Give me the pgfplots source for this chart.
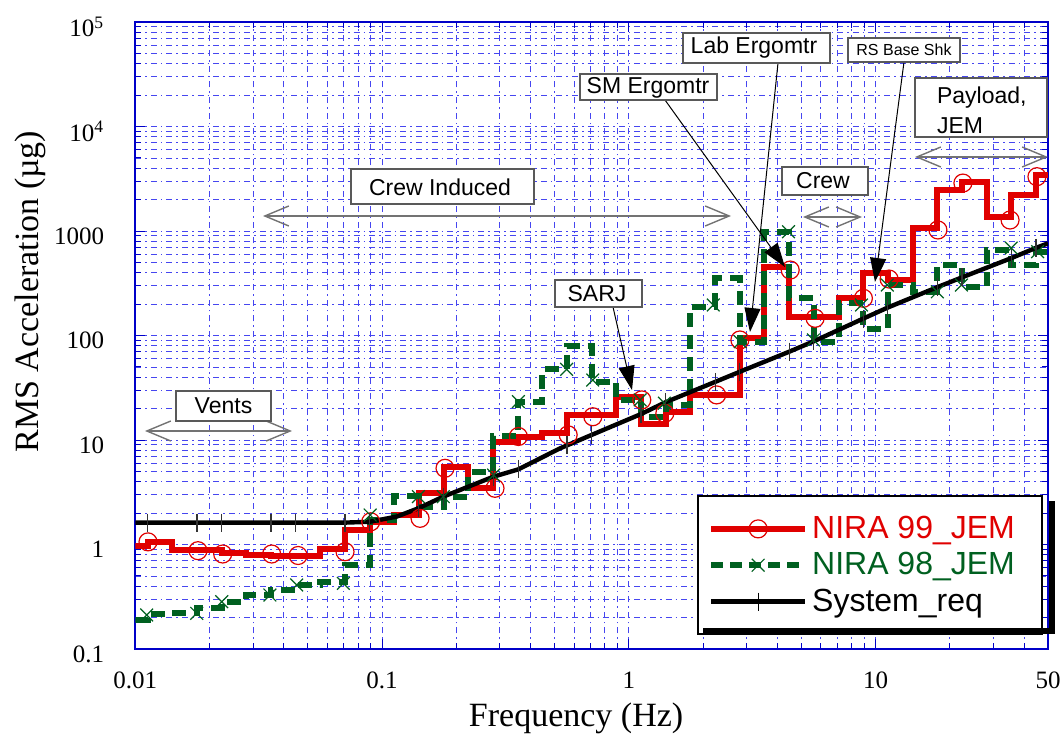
\documentclass[border=0pt]{standalone}
\usepackage{pgfplots}
\pgfplotsset{compat=1.18}
\usetikzlibrary{arrows.meta}
\usepackage{fontspec}
\setmainfont{Liberation Serif}
\newfontfamily\arialf{Liberation Sans}
\definecolor{nred}{RGB}{224,0,0}
\definecolor{ngreen}{RGB}{0,96,32}
\definecolor{gridblue}{RGB}{70,70,240}
\definecolor{axblue}{RGB}{0,0,200}

\begin{document}
\begin{tikzpicture}
% picture frame = 1061 x 737 px at 0.5pt per px, axis box at px (135.3,22)-(1048,649)
\useasboundingbox (-67.65pt,11pt) rectangle (462.85pt,-357.5pt);
\begin{axis}[
  at={(0pt,0pt)}, anchor=north west,
  scale only axis, width=456.35pt, height=313.5pt,
  xmode=log, ymode=log,
  xmin=0.01, xmax=50, ymin=0.1, ymax=100000,
  xtick={0.01,0.1,1,10,50}, xticklabels={0.01,0.1,1,10,50},
  ytick={0.1,1,10,100,1000,10000,100000},
  yticklabels={0.1,1,10,100,1000,10\textsuperscript{4},10\textsuperscript{5}},
  minor xtick={0.02,0.03,0.04,0.05,0.06,0.07,0.08,0.09,0.2,0.3,0.4,0.5,0.6,0.7,0.8,0.9,2,3,4,5,6,7,8,9,20,30,40},
  minor ytick={0.2,0.3,0.4,0.5,0.6,0.7,0.8,0.9,2,3,4,5,6,7,8,9,20,30,40,50,60,70,80,90,200,300,400,500,600,700,800,900,2000,3000,4000,5000,6000,7000,8000,9000,20000,30000,40000,50000,60000,70000,80000,90000},
  grid=both,
  major grid style={draw=gridblue, dash pattern=on 3pt off 2pt on 0.8pt off 2pt, line width=0.5pt},
  minor grid style={draw=gridblue, dash pattern=on 3pt off 2pt on 0.8pt off 2pt, line width=0.45pt},
  axis line style={draw=axblue, line width=0.8pt},
  tick style={draw=axblue, line width=0.5pt},
  major tick length=5pt, minor tick length=3pt, tick align=inside,
  ticklabel style={font=\fontsize{12.5}{14}\selectfont},
  xticklabel style={yshift=-8pt},
  yticklabel style={xshift=-12pt, yshift=-2.5pt},
  xlabel={Frequency (Hz)}, ylabel={RMS Acceleration (µg)},
  label style={font=\fontsize{17}{20}\selectfont},
  xlabel style={at={(axis description cs:0.483,-0.11)}, anchor=center},
  ylabel style={at={(axis description cs:-0.115,0.57)}, anchor=center},
  legend image code/.code={\draw[mark repeat=2,mark phase=2,#1] plot coordinates {(0pt,0pt)(23.5pt,0pt)(47pt,0pt)};},
  legend style={at={(axis description cs:0.6154,0.2456)}, anchor=north west,
    draw=black, line width=1.2pt, fill=white,
    font=\arialf\fontsize{16}{18}\selectfont,
    inner xsep=5pt, inner ysep=8pt, row sep=1.5pt},
  legend cell align=left,
]
\addlegendimage{nred, line width=3pt, mark=o, mark size=4.5pt, mark options={solid, line width=0.6pt}}
\addlegendentry{\makebox[108pt][l]{\textcolor{nred}{NIRA 99\_JEM}}}
\addlegendimage{ngreen, line width=3pt, dash pattern=on 6pt off 3.5pt, mark=x, mark size=4.5pt, mark options={solid, line width=0.6pt}}
\addlegendentry{\makebox[108pt][l]{\textcolor{ngreen}{NIRA 98\_JEM}}}
\addlegendimage{black, line width=2.2pt, mark=|, mark size=4.5pt, mark options={solid, line width=0.6pt}}
\addlegendentry{\makebox[108pt][l]{System\_req}}

% NIRA 99_JEM, 1/3 octave band levels
\addplot[nred, line width=3pt, line join=miter, const plot mark mid, forget plot] coordinates {
(0.01,0.97)(0.01259,1.06)(0.01585,0.886)(0.01995,0.886)(0.02512,0.835)(0.03162,0.79)(0.03981,0.77)(0.05012,0.77)(0.0631,0.906)(0.07943,1.38)
(0.1,1.65)(0.1259,1.91)(0.1585,3.09)(0.1995,5.56)(0.2512,3.45)(0.3162,9.64)(0.3981,10.8)(0.5012,11.6)(0.631,17.3)(0.7943,17.3)
(1,25.9)(1.259,14.2)(1.585,18.7)(1.995,27)(2.512,27)(3.162,94)(3.981,455)(5.012,151)(6.31,151)(7.943,227)
(10,399)(12.59,340)(15.85,1062)(19.95,2466)(25.12,2963)(31.62,1370)(39.81,2208)(50,3436)};

% NIRA 98_JEM
\addplot[ngreen, line width=3pt, dash pattern=on 7pt off 4pt, const plot mark mid, forget plot] coordinates {
(0.01,0.189)(0.01259,0.216)(0.01585,0.22)(0.01995,0.246)(0.02512,0.284)(0.03162,0.329)(0.03981,0.367)(0.05012,0.414)(0.0631,0.44)(0.07943,0.635)
(0.1,1.71)(0.1259,2.91)(0.1585,2.3)(0.1995,2.85)(0.2512,4.97)(0.3162,10.9)(0.3981,23.3)(0.5012,47.5)(0.631,79.8)(0.7943,36.1)
(1,24.2)(1.259,16.7)(1.585,21.6)(1.995,189)(2.512,352)(3.162,87.3)(3.981,984)(5.012,227)(6.31,87.3)(7.943,203)
(10,115)(12.59,304)(15.85,262)(19.95,473)(25.12,293)(31.62,658)(39.81,473)(50,634)};

% System_req
\addplot[black, line width=2.2pt, forget plot] coordinates {
(0.01,1.62)(0.0112,1.62)(0.0178,1.62)(0.0224,1.62)(0.0355,1.62)(0.0447,1.62)(0.0708,1.62)(0.089,1.65)(0.1147,1.85)(0.1403,2.22)
(0.177,2.87)(0.2825,4.45)(0.357,5.24)(0.527,8.33)(0.708,11.2)(1.12,17.7)(1.41,23)(2.24,36)(2.82,45)(4.47,70)
(5.62,88)(8.91,145)(11.2,185)(17.8,290)(22.4,360)(35.5,550)(44.7,690)(50,762)};

% markers
\addplot[only marks, mark=o, mark size=4.5pt, mark options={nred, line width=0.6pt}, forget plot] coordinates {
(0.01126,1.06)(0.01795,0.873)(0.0226,0.811)(0.0357,0.811)(0.0457,0.785)(0.0708,0.853)(0.09,1.65)(0.1426,1.78)(0.18,5.36)(0.287,3.45)
(0.357,10.8)(0.568,11.2)(0.715,16.7)(1.129,24.2)(1.40,18)(2.27,27)(2.82,90.6)(4.51,423)(5.69,146)(8.93,227)
(11.35,347)(17.9,1023)(22.6,2876)(35.1,1274)(45.1,3311)};
\addplot[only marks, mark=x, mark size=4.5pt, mark options={ngreen, line width=0.6pt}, forget plot] coordinates {
(0.01112,0.2115)(0.01774,0.2195)(0.02241,0.2836)(0.03512,0.3286)(0.04509,0.4097)(0.0697,0.4253)(0.0895,1.915)(0.1404,2.87)(0.1771,2.87)(0.2833,4.62)
(0.357,23.3)(0.5599,47.5)(0.7142,37.5)(1.1123,24.2)(1.3937,22.5)(2.2,196)(2.83,87.3)(4.44,984)(5.6,90.6)(8.77,196)
(11.16,304)(17.8,262)(22.3,304)(35.5,687)(45.4,634)};
\addplot[only marks, mark=|, mark size=4.5pt, mark options={black!80, line width=0.6pt}, forget plot] coordinates {
(0.0112,1.62)(0.0178,1.62)(0.0224,1.62)(0.0355,1.62)(0.0447,1.62)(0.0708,1.62)(0.089,1.65)(0.1403,2.22)(0.177,2.87)(0.2825,4.45)
(0.357,5.24)(0.562,8.9)(0.708,11.2)(1.12,17.7)(1.41,23)(2.24,36)(2.82,45)(4.47,70)(5.62,88)(8.91,145)
(11.2,185)(17.8,290)(22.4,360)(35.5,550)(44.7,690)};
\end{axis}

% annotations, in pixel units of the reference
\begin{scope}[x=0.5pt,y=-0.5pt,shift={(-135.3,-22)}, font=\arialf\fontsize{11.5}{13}\selectfont]
\tikzset{abox/.style={fill=white, draw=black!65, line width=0.8pt},
  dbl/.style={draw=black!55, line width=0.7pt, {Straight Barb[length=12pt,width=10pt]}-{Straight Barb[length=12pt,width=10pt]}},
  sarr/.style={draw=black, line width=0.5pt, -{Triangle[length=12pt,width=8pt]}}}
% legend shadow
\fill[black] (1049,501) rectangle (1055,634);
\fill[black] (703,628) rectangle (1055,634);

\draw[dbl] (145,431) -- (292,431);
\draw[abox] (176,391) rectangle (271,421);
\node at (223.5,406) {Vents};

\draw[dbl] (263,216) -- (731,216);
\draw[abox] (351,169) rectangle (534,204);
\node at (440,187) {Crew Induced};

\draw[dbl] (803,217) -- (862,217);
\draw[abox] (782,167) rectangle (868,195);
\node at (823,181) {Crew};

\draw[dbl] (915,157) -- (1048,157);
\draw[abox] (915,78) rectangle (1047,137);
\node[anchor=west] at (930,98) {Payload,};
\node[anchor=west] at (930,126) {JEM};

\draw[sarr] (613,307) -- (632,390);
\draw[abox] (555,280) rectangle (642,307);
\node at (597,294) {SARJ};

\draw[sarr] (665,100) -- (785,267);
\draw[abox] (580,74) rectangle (717,100);
\node at (648,88) {SM Ergomtr};

\draw[sarr] (778,63) -- (750,332);
\draw[abox] (683,33) rectangle (830,63);
\node at (754,48) {Lab Ergomtr};

\draw[sarr] (904,62) -- (875,282);
\draw[abox] (848,38) rectangle (960,62);
\node[font=\arialf\fontsize{8}{9}\selectfont] at (904,50) {RS Base Shk};
\end{scope}
\end{tikzpicture}
\end{document}
